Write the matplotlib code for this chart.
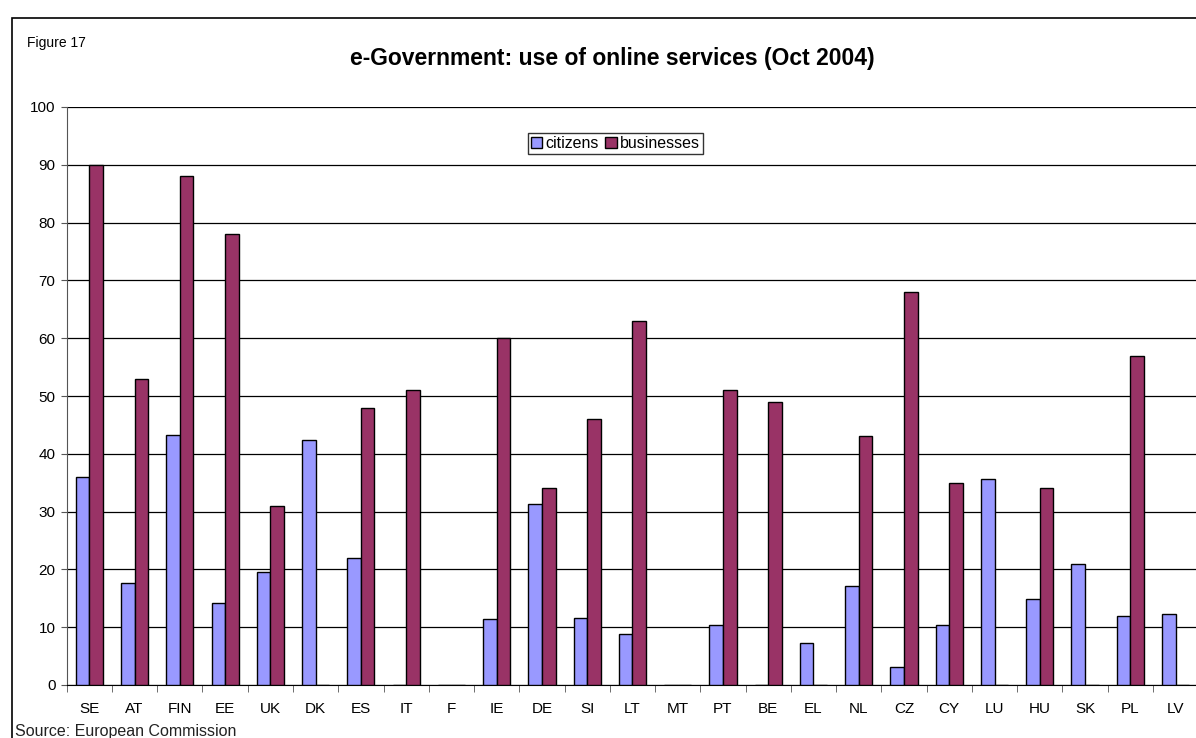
import numpy as np
import matplotlib.pyplot as plt
from matplotlib.patches import Rectangle

plt.rcParams['font.family'] = ['Liberation Sans', 'DejaVu Sans']

countries = ['SE', 'AT', 'FIN', 'EE', 'UK', 'DK', 'ES', 'IT', 'F', 'IE', 'DE', 'SI', 'LT',
             'MT', 'PT', 'BE', 'EL', 'NL', 'CZ', 'CY', 'LU', 'HU', 'SK', 'PL', 'LV']
citizens = [36, 17.6, 43.3, 14.2, 19.5, 42.4, 22, 0, 0, 11.4, 31.3, 11.6, 8.9,
            0, 10.3, 0, 7.2, 17.2, 3.1, 10.4, 35.6, 14.9, 20.9, 11.9, 12.2]
businesses = [90, 53, 88, 78, 31, 0, 48, 51, 0, 60, 34, 46, 63,
              0, 51, 49, 0, 43, 68, 35, 0, 34, 0, 57, 0]

W, H = 1196, 738
fig = plt.figure(figsize=(W / 100, H / 100), dpi=100)
ax = fig.add_axes([66.7 / W, 53 / H, 1131.5 / W, 578 / H])

x = np.arange(len(countries))
w = 0.3
ax.bar(x - w / 2, citizens, w, color='#9999FF', edgecolor='black', linewidth=1,
       label='citizens', zorder=3)
ax.bar(x + w / 2, businesses, w, color='#993366', edgecolor='black', linewidth=1,
       label='businesses', zorder=3)

ax.set_xlim(-0.5, len(countries) - 0.5)
ax.set_ylim(0, 100)
ax.set_yticks(range(0, 101, 10))
ax.yaxis.grid(True, color='black', linewidth=0.9, zorder=0)
ax.set_xticks(x)
ax.set_xticklabels(countries, fontsize=11)
ax.tick_params(axis='x', length=0, pad=12)
ax.set_xticks(np.arange(-0.5, len(countries), 1), minor=True)
ax.tick_params(axis='x', which='minor', length=5, color='#555555', direction='out')
ax.tick_params(axis='y', length=4, color='#555555', labelsize=11, pad=4)
for s in ['top', 'right']:
    ax.spines[s].set_visible(False)
ax.spines['left'].set_color('#555555')
ax.spines['bottom'].set_color('black')

leg = ax.legend(loc='upper center', bbox_to_anchor=(0.485, 0.955), ncol=2, fontsize=11.5,
                frameon=True, fancybox=False, edgecolor='black', handlelength=0.7,
                handleheight=0.7, handletextpad=0.2, columnspacing=0.4,
                borderpad=0.2, borderaxespad=0)
leg.get_frame().set_linewidth(1)

# outer chart frame
fig.patches.append(Rectangle((12 / W, -0.1), 1.2, 1 - 18 / H + 0.1,
                             transform=fig.transFigure, fill=False,
                             edgecolor='black', linewidth=1.2))

fig.text(27 / W, 1 - 36 / H, 'Figure 17', fontsize=10, va='top', ha='left')
fig.text(612 / W, 1 - 58 / H, 'e-Government: use of online services (Oct 2004)',
         fontsize=16.5, fontweight='bold', ha='center', va='center')
fig.text(15 / W, 1 - 736 / H, 'Source: European Commission', fontsize=11.5,
         ha='left', va='baseline', color='#222222')

fig.savefig('out.png', dpi=100)
